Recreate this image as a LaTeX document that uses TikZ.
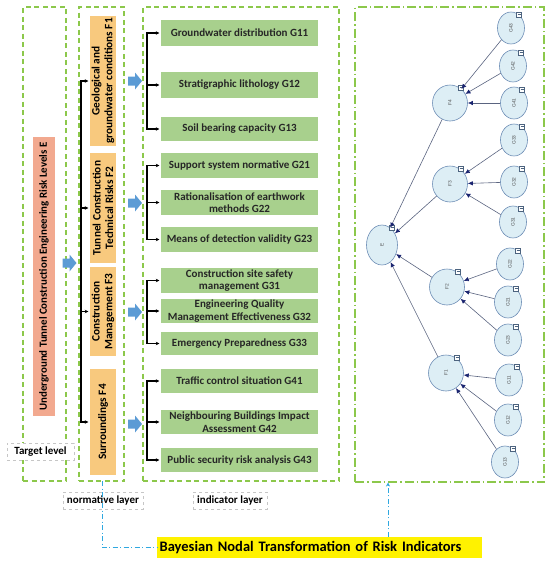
\documentclass[tikz,border=0pt]{standalone}
\usepackage{fontspec}
\setmainfont{Carlito}
\newfontfamily\smallsans{Liberation Sans}
\usetikzlibrary{shapes.geometric,arrows.meta}
\definecolor{gdash}{HTML}{8CC84B}
\definecolor{efill}{HTML}{F2A98F}
\definecolor{ffill}{HTML}{F8C97E}
\definecolor{gfill}{HTML}{A8D08D}
\definecolor{barr}{HTML}{5B9BD5}
\definecolor{bnfill}{HTML}{DDEEF5}
\definecolor{bnline}{HTML}{6D8DB5}
\definecolor{bnedge}{HTML}{5A6480}
\definecolor{bntip}{HTML}{1A2470}
\definecolor{ddblue}{HTML}{2FA8E0}
\begin{document}
\begin{tikzpicture}[x=1pt,y=-1pt,
  gbox/.style={draw=gdash, dash pattern=on 5pt off 3.5pt, line width=1.1pt, minimum width=#1, inner sep=0},
  ddbox/.style={draw=gdash, dash pattern=on 9pt off 3pt on 1.5pt off 3pt, line width=1.1pt, inner sep=0},
  lab/.style={draw=gray!45, dashed, line width=0.5pt, fill=white, font=\fontsize{11}{12}\selectfont\bfseries, inner xsep=3pt, minimum height=17pt, inner ysep=0},
  ebox/.style={fill=efill, rotate=90, minimum width=279pt, minimum height=22pt, inner sep=0, font=\fontsize{10.9}{12}\selectfont\bfseries},
  fbox/.style={fill=ffill, rotate=90, minimum height=26pt, inner sep=0, align=center, font=\fontsize{11.3}{12.6}\selectfont\bfseries},
  gbx/.style={fill=gfill, minimum width=157pt, inner sep=0, align=center, font=\fontsize{11}{12.4}\selectfont\bfseries, text=black!85},
  brk/.style={line width=1.1pt, -{Stealth[length=3.5pt,width=3.5pt]}, shorten >=1.5pt},
  bn/.style={ellipse, draw=bnline, fill=bnfill, line width=0.6pt, inner sep=0, font=\smallsans\fontsize{4.8}{5}\selectfont, text=black!70},
  bnarrow/.style={draw=bnedge, line width=0.6pt, -{Latex[length=5pt,width=4.5pt,color=bntip]}},
  icon/.style={draw=bnline!70!black, fill=white, minimum size=5pt, inner sep=0, line width=0.5pt},
  dd/.style={draw=ddblue, line width=1pt, dash pattern=on 5pt off 2.5pt on 1pt off 2.5pt},
  barrow/.pic={\fill[barr] (-7,-4.5)--(0,-4.5)--(0,-8.5)--(7,0)--(0,8.5)--(0,4.5)--(-7,4.5)--cycle;}
]
\useasboundingbox (0,0) rectangle (550,565);
% layer frames
\node[gbox=43pt, minimum height=474pt] (L1) at (44.5,244) {};
\node[gbox=45pt, minimum height=474pt] (L2) at (101.5,244) {};
\node[gbox=196pt, minimum height=474pt] (L3) at (241,244) {};
\node[ddbox, minimum width=189pt, minimum height=475pt] (L4) at (449.5,244.5) {};
% labels
\node[lab, minimum width=67pt] (tl) at (40.5,451.5) {Target level};
\node[lab, minimum width=80pt] (nl) at (103,500.5) {normative layer};
\node[lab, minimum width=74pt] (il) at (230,500.5) {indicator layer};
% target
\node[ebox] (E) at (44,276.5) {Underground Tunnel Construction Engineering Risk Levels E};
% F boxes
\node[fbox, minimum width=130pt] (F1) at (103,81) {Geological and\\groundwater conditions F1};
\node[fbox, minimum width=110pt] (F2) at (103,208) {Tunnel Construction\\Technical Risks F2};
\node[fbox, minimum width=89pt] (F3) at (103,311.5) {Construction\\Management F3};
\node[fbox, minimum width=106pt] (F4) at (103,422) {Surroundings F4};
% G boxes
\node[gbx, minimum height=26pt] (G11) at (239.5,33) {Groundwater distribution G11};
\node[gbx, minimum height=26pt] (G12) at (239.5,85) {Stratigraphic lithology G12};
\node[gbx, minimum height=24pt] (G13) at (239.5,129) {Soil bearing capacity G13};
\node[gbx, minimum height=25pt] (G21) at (239.5,165.5) {Support system normative G21};
\node[gbx, minimum height=25pt] (G22) at (239.5,202.5) {Rationalisation of earthwork\\methods G22};
\node[gbx, minimum height=25pt] (G23) at (239.5,239.5) {Means of detection validity G23};
\node[gbx, minimum height=25pt] (G31) at (239.5,280.5) {Construction site safety\\management G31};
\node[gbx, minimum height=24pt] (G32) at (239.5,311) {Engineering Quality\\Management Effectiveness G32};
\node[gbx, minimum height=23pt] (G33) at (239.5,343.5) {Emergency Preparedness G33};
\node[gbx, minimum height=24pt] (G41) at (239.5,381) {Traffic control situation G41};
\node[gbx, minimum height=24pt] (G42) at (239.5,422) {Neighbouring Buildings Impact\\Assessment G42};
\node[gbx, minimum height=24pt] (G43) at (239.5,460) {Public security risk analysis G43};
% E bracket
\coordinate (eb) at (81,263);
\draw[brk] (eb) |- (F1);
\draw[brk] (eb) |- (F2);
\draw[brk] (eb) |- (F3);
\draw[brk] (eb) |- (F4);
\pic at (69.5,263) {barrow};
% G brackets
\coordinate (b1) at (147,85);
\coordinate (b2) at (147,202.5);
\coordinate (b3) at (147,311);
\coordinate (b4) at (147,422);
\foreach \b/\p/\q/\r in {b1/G11/G12/G13, b2/G21/G22/G23, b3/G31/G32/G33, b4/G41/G42/G43}{
  \draw[brk] (\b) |- (\p);
  \draw[brk] (\b) -- (\q);
  \draw[brk] (\b) |- (\r);
}
\foreach \y in {81,203,312,424}{ \pic at (135,\y) {barrow}; }
% Bayesian network
\foreach \n/\x/\y in {g43/511/28, g42/513/66, g41/514/103, g33/514/140, g32/514/182, g31/513/222,
  g22/510/264, g21/508/302, g23/508/340, g11/509/380, g12/508/420, g13/505/462}{
  \node[bn, minimum width=27pt, minimum height=32pt] (\n) at (\x,\y) {\rotatebox{90}{\MakeUppercase{\n}}};
  \node[icon] at (\x+8,\y-13) {};
  \draw[bnline!70!black, line width=0.4pt] (\x+6.5,\y-14) -- (\x+9.5,\y-14);
}
\foreach \n/\l/\x/\y in {f4/F4/450/103, f3/F3/450/184, f2/F2/447/287, f1/F1/446/373}{
  \node[bn, minimum width=35pt, minimum height=36pt] (\n) at (\x,\y) {\rotatebox{90}{\l}};
  \node[icon] at (\x+11,\y-15) {};
  \draw[bnline!70!black, line width=0.4pt] (\x+9.5,\y-16) -- (\x+12.5,\y-16);
}
\node[bn, minimum width=31pt, minimum height=40pt] (e) at (382,245) {\rotatebox{90}{E}};
\node[icon] at (392,228) {};
\draw[bnline!70!black, line width=0.4pt] (390.5,227) -- (393.5,227);
\foreach \c/\p in {g43/f4, g42/f4, g41/f4, g33/f3, g32/f3, g31/f3, g22/f2, g21/f2, g23/f2, g11/f1, g12/f1, g13/f1, f4/e, f3/e, f2/e, f1/e}{
  \draw[bnarrow] (\c) -- (\p);
}
% Bayesian caption
\node[fill=yellow, anchor=west, text width=320pt, inner xsep=2.5pt, minimum height=21pt, align=left,
  font=\fontsize{14.5}{16}\selectfont\bfseries] (Y) at (157,547.5) {\mbox{Bayesian Nodal Transformation of Risk Indicators}};
\coordinate (nb) at (102,481);
\coordinate (bb) at (388,482.5);
\draw[dd] (nb) |- (Y.west);
\draw[dd, -{Stealth[length=4pt,width=4pt]}] (Y.north -| bb) -- (bb);
\end{tikzpicture}
\end{document}
